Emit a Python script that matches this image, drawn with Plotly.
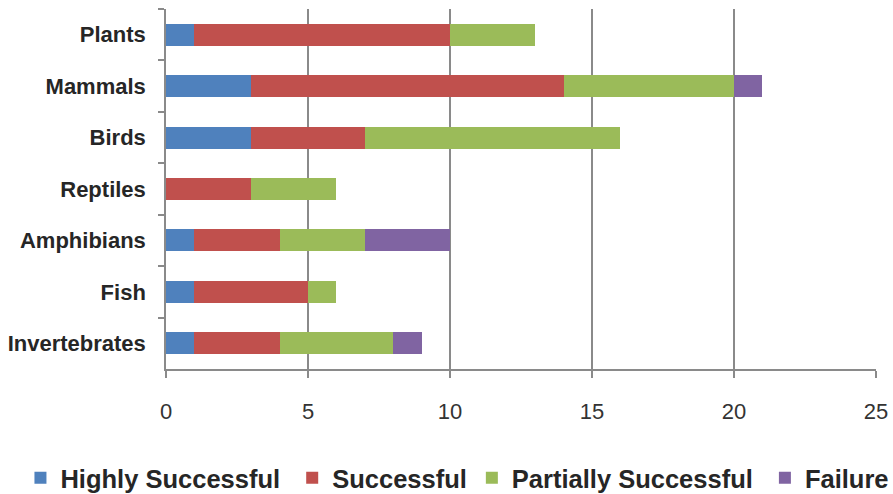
import plotly.graph_objects as go

categories = ["Plants", "Mammals", "Birds", "Reptiles", "Amphibians", "Fish", "Invertebrates"]
highly_successful = [1, 3, 3, 0, 1, 1, 1]
successful = [9, 11, 4, 3, 3, 4, 3]
partially_successful = [3, 6, 9, 3, 3, 1, 4]
failure = [0, 1, 0, 0, 3, 0, 1]
series_names = ["Highly Successful", "Successful", "Partially Successful", "Failure"]

NB = "\u00a0"
series = [
    (series_names[0] + NB, highly_successful, "#4F81BD"),
    (series_names[1], successful, "#C0504D"),
    (series_names[2] + NB, partially_successful, "#9BBB59"),
    (series_names[3], failure, "#8064A2"),
]

FONT = "Liberation Sans, Arial, sans-serif"
GRID = "#8a8a8a"

fig = go.Figure()
for name, vals, color in series:
    fig.add_trace(go.Bar(
        y=categories, x=vals, name=name, orientation="h",
        marker=dict(color=color, line=dict(width=0)),
    ))

fig.update_layout(
    barmode="stack",
    bargap=0.57,
    width=893, height=494,
    margin=dict(l=166, r=17, t=9, b=125, autoexpand=False),
    plot_bgcolor="white", paper_bgcolor="white",
    font=dict(family=FONT, color="#262626"),
    legend=dict(
        orientation="h", x=-0.205, xanchor="left", y=-0.303, yanchor="middle",
        font=dict(family=FONT, size=25.5, color="#262626", weight="bold"),
        traceorder="normal",
    ),
    xaxis=dict(
        range=[0, 25], dtick=5, tick0=0,
        showgrid=True, gridcolor=GRID, gridwidth=1.5,
        zeroline=False,
        showline=True, linecolor=GRID, linewidth=1.5,
        ticks="outside", ticklen=7, tickcolor=GRID, tickwidth=1.5,
        ticklabelstandoff=15,
        tickfont=dict(family=FONT, size=22, color="#333333"),
    ),
    yaxis=dict(
        autorange="reversed",
        showgrid=False, zeroline=False,
        showline=True, linecolor=GRID, linewidth=1.5,
        ticks="outside", ticklen=6, tickcolor=GRID, tickwidth=1.5,
        tickson="boundaries",
        ticklabelstandoff=14,
        tickfont=dict(family=FONT, size=22, color="#262626", weight="bold"),
    ),
)

fig.write_html("out.html")
